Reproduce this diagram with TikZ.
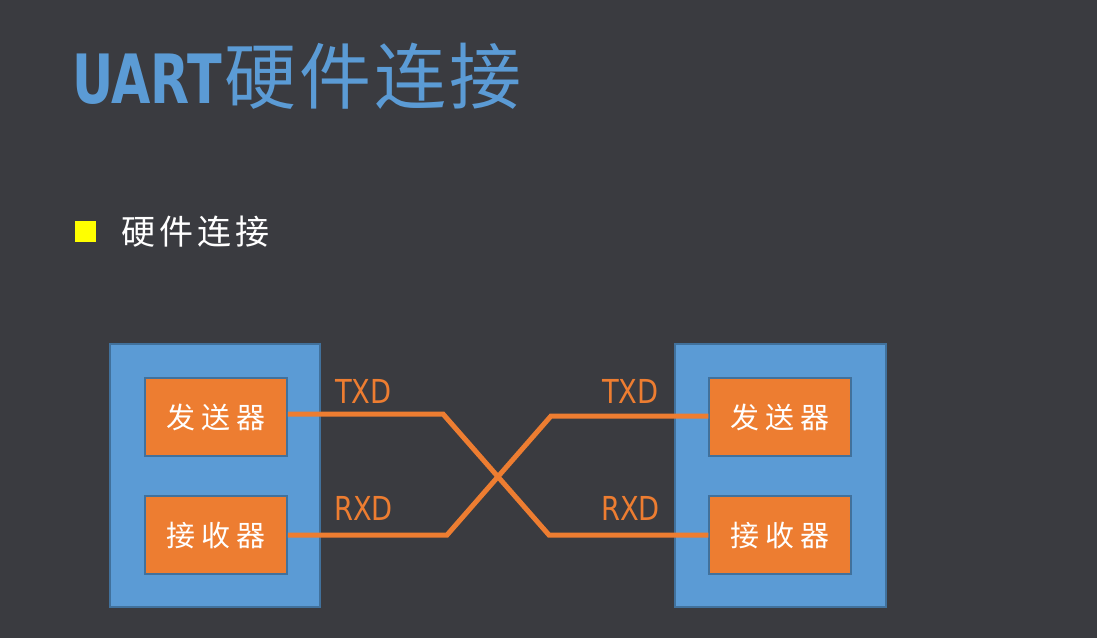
\documentclass[tikz,border=0pt]{standalone}
\usepackage{fontspec}
\setmainfont{DejaVu Sans Condensed}
\newfontfamily\cjk{Noto Sans CJK SC}
\newfontfamily\condsans[FakeStretch=0.92]{DejaVu Sans Condensed}
\newfontfamily\titlesans[FakeStretch=0.83]{DejaVu Sans Condensed Bold}
\definecolor{bg}{HTML}{3A3B40}
\definecolor{ublue}{HTML}{5B9BD5}
\definecolor{dblue}{HTML}{41719C}
\definecolor{uorange}{HTML}{ED7D31}
\definecolor{uyellow}{HTML}{FFFF00}
\newcommand{\gapx}[1]{\hspace{#1}}
\tikzset{
  outerbox/.style={draw=dblue, line width=1.5pt, fill=ublue},
  innerbox/.style={draw=dblue, line width=1.5pt, fill=uorange, minimum width=142pt, minimum height=78pt, inner sep=0pt, text=white, font=\cjk\fontsize{29}{29}\selectfont},
  wire/.style={draw=uorange, line width=5pt},
  siglabel/.style={text=uorange, font=\condsans\fontsize{33}{33}\selectfont, inner sep=0pt, anchor=base west},
}
\begin{document}
\begin{tikzpicture}[x=1pt,y=-1pt]
\useasboundingbox (0,0) rectangle (1097,638);
\fill[bg] (0,0) rectangle (1097,638);
% title
\node[anchor=base west, inner sep=0pt, text=ublue] (title) at (72,103)
  {\titlesans\fontsize{68}{68}\selectfont UART\cjk\fontsize{72}{72}\selectfont \gapx{2pt}硬\gapx{3pt}件\gapx{3pt}连\gapx{3pt}接};
% bullet
\node[fill=uyellow, minimum size=21pt, inner sep=0pt] (bullet) at (85.5,231.5) {};
\node[anchor=west, inner sep=0pt, text=white, font=\cjk\fontsize{34}{34}\selectfont] (sub) at (121,231.5) {硬\gapx{4pt}件\gapx{4pt}连\gapx{4pt}接};
% left device
\fill[outerbox] (110,344) rectangle (320,607);
\node[innerbox] (ltx) at (216,417) {发\gapx{6pt}送\gapx{6pt}器};
\node[innerbox] (lrx) at (216,535) {接\gapx{6pt}收\gapx{6pt}器};
% right device
\fill[outerbox] (675,344) rectangle (886,607);
\node[innerbox] (rtx) at (780,417) {发\gapx{6pt}送\gapx{6pt}器};
\node[innerbox] (rrx) at (780,535) {接\gapx{6pt}收\gapx{6pt}器};
% crossing points
\coordinate (a1) at (443,414);
\coordinate (a2) at (447,535);
\coordinate (b1) at (551,416);
\coordinate (b2) at (549,535);
\draw[wire] (ltx.east |- a1) -- (a1) -- (b2) -- (rrx.west |- b2);
\draw[wire] (lrx.east |- a2) -- (a2) -- (b1) -- (rtx.west |- b1);
% labels
\node[siglabel] (ltxd) at (335,403) {TXD};
\node[siglabel] (lrxd) at (334,520) {RXD};
\node[siglabel] (rtxd) at (602,403) {TXD};
\node[siglabel] (rrxd) at (601,520) {RXD};
\end{tikzpicture}
\end{document}
